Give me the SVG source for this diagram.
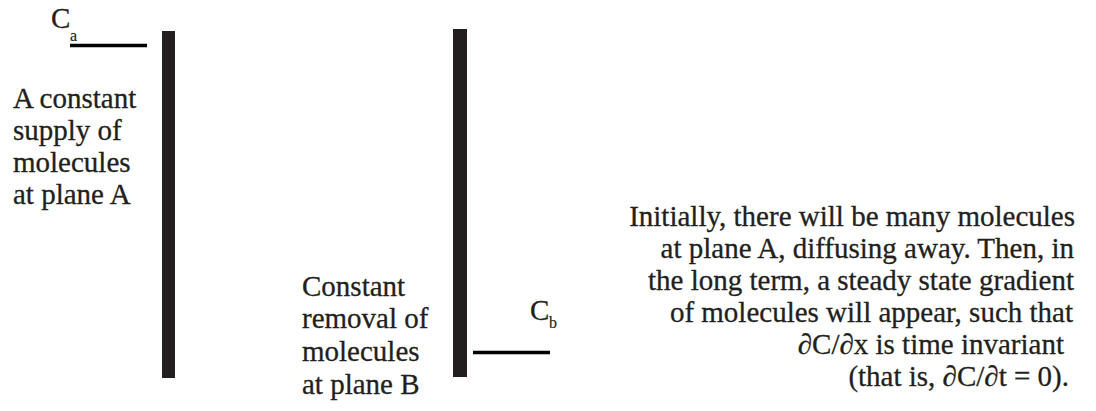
<svg xmlns="http://www.w3.org/2000/svg" width="1096" height="411" viewBox="0 0 1096 411">
<style>
text{font-family:"Liberation Serif","Times New Roman",serif;fill:#231f20;font-size:29px;stroke:#231f20;stroke-width:0.3}
.sub{font-size:16px;stroke-width:0.2}
.r{text-anchor:end}
.bar{fill:#231f20}
.lvl{stroke:#000;stroke-width:3.5}
</style>
<rect width="1096" height="411" fill="#fff"/>
<g id="planeA">
<rect class="bar" x="162" y="31" width="13" height="347"/>
</g>
<g id="planeB">
<rect class="bar" x="453" y="29" width="14" height="348"/>
</g>
<g id="connectors">
<line class="lvl" x1="70" y1="45.5" x2="147" y2="45.5"/>
<line class="lvl" x1="473" y1="352.5" x2="550" y2="352.5"/>
</g>
<g id="labelCa">
<text x="51" y="28">C</text><text class="sub" x="70" y="41">a</text>
</g>
<g id="labelCb">
<text x="530" y="320">C</text><text class="sub" x="549" y="328">b</text>
</g>
<g id="supplyText">
<text x="13" y="108">A constant</text>
<text x="13" y="140">supply of</text>
<text x="13" y="172">molecules</text>
<text x="13" y="204">at plane A</text>
</g>
<g id="removalText">
<text x="302" y="296">Constant</text>
<text x="302" y="328">removal of</text>
<text x="302" y="361">molecules</text>
<text x="302" y="394">at plane B</text>
</g>
<g id="noteText">
<text class="r" x="1075" y="226">Initially, there will be many molecules</text>
<text class="r" x="1074" y="258">at plane A, diffusing away. Then, in</text>
<text class="r" x="1074" y="290">the long term, a steady state gradient</text>
<text class="r" x="1073" y="322">of molecules will appear, such that</text>
<text class="r" x="1064" y="354">∂C/∂x is time invariant</text>
<text class="r" x="1069" y="386">(that is, ∂C/∂t = 0).</text>
</g>
</svg>
